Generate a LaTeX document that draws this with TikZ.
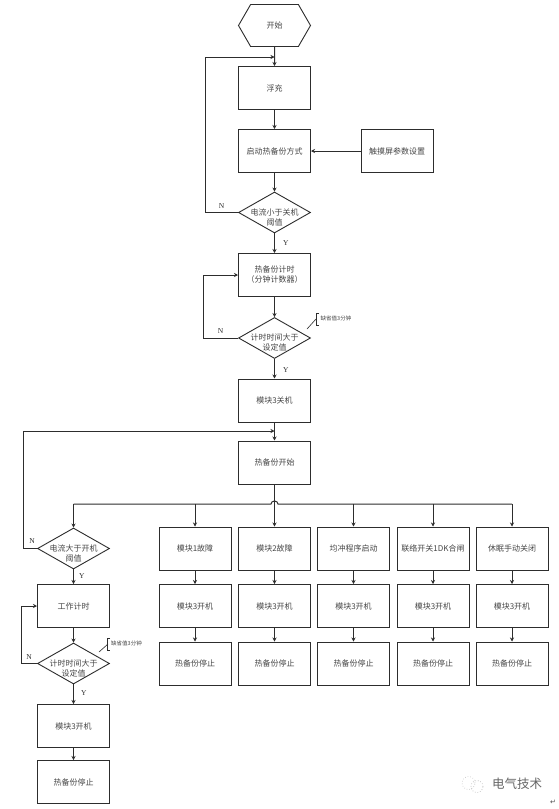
\documentclass[tikz,border=0pt]{standalone}
\usepackage{fontspec}
\usepackage{tikz}
\usetikzlibrary{arrows.meta,calc,shapes.geometric,shapes.symbols,positioning}
\setmainfont{Liberation Serif}
\newfontfamily\cjk{Noto Sans CJK SC}
\newfontfamily\symb{DejaVu Sans}
\definecolor{flowline}{RGB}{45,45,45}
\definecolor{flowtext}{RGB}{70,70,70}
\tikzset{flow/.style={-{Stealth[length=4pt,width=4pt]},flowline,line width=1pt},
 procbox/.style={draw=flowline,line width=1pt,minimum width=72pt,minimum height=43pt,
  inner sep=0pt,align=center,text=flowtext,font=\cjk\fontsize{8}{10}\selectfont},
 decide/.style={diamond,aspect=1.72,draw=flowline,line width=.9pt,minimum width=72pt,minimum height=41pt,
  inner sep=0pt},
 decidetext/.style={inner sep=0pt,align=center,text=flowtext,yshift=-4.5pt,
  font=\cjk\fontsize{8}{10}\selectfont},
 startbox/.style={signal,signal to=east and west,signal pointer angle=120,
  draw=flowline,line width=.9pt,minimum width=72pt,minimum height=42pt,inner sep=0pt,
  text=flowtext,font=\cjk\fontsize{8}{10}\selectfont},
 yn/.style={text=flowline,font=\fontsize{7.5}{8}\selectfont,inner sep=0pt},
 memo/.style={text=flowtext,font=\cjk\fontsize{5.5}{6}\selectfont,inner sep=0pt,anchor=west}}
\begin{document}
\begin{tikzpicture}[x=1pt,y=-1pt]
\useasboundingbox (0,0) rectangle (559,809);
\fill[white] (0,0) rectangle (559,809);
% main column
\node[startbox] (start) at (274.5,25.5) {开始};
\node[procbox] (float) at (274.5,88) {浮充};
\node[procbox] (mode) at (274.5,151) {启动热备份方式};
\node[procbox] (touch) at (397,151) {触摸屏参数设置};
\node[decide,label={[decidetext]center:{电流小于关机\\阈值}}] (offcheck) at (274.5,212.5) {};
\node[procbox] (timer) at (274.5,275) {热备份计时\\（分钟计数器）};
\node[decide,label={[decidetext]center:{计时时间大于\\设定值}}] (timecheck) at (274.5,338) {};
\node[procbox] (off3) at (274.5,400.5) {模块3关机};
\node[procbox] (hot) at (274.5,462.5) {热备份开始};
% left column
\node[decide,label={[decidetext]center:{电流大于开机\\阈值}}] (oncheck) at (73.5,548.5) {};
\node[procbox] (work) at (73.5,606) {工作计时};
\node[decide,label={[decidetext]center:{计时时间大于\\设定值}}] (worktime) at (73.5,663.5) {};
\node[procbox] (on0) at (73.5,726) {模块3开机};
\node[procbox] (stop0) at (73.5,782) {热备份停止};
% fault columns
\foreach \name/\xx/\txt in {a/195/模块1故障,b/274.5/模块2故障,c/353.5/均冲程序启动,
  d/433/联络开关1DK合闸,e/512/休眠手动关闭}{
 \node[procbox] (cause\name) at (\xx,548.5) {\txt};
 \node[procbox] (on\name) at (\xx,606) {模块3开机};
 \node[procbox] (stop\name) at (\xx,663.5) {热备份停止};
 \draw[flow] (cause\name) -- (on\name);
 \draw[flow] (on\name) -- (stop\name);
}
% main flow
\coordinate (backa) at (274.5,57);
\coordinate (backb) at (274.5,431);
\coordinate (busl) at (73.5,504);
\coordinate (busr) at (512,504);
\draw[flow] (start) -- (float);
\draw[flow] (float) -- (mode);
\draw[flow] (touch) -- (mode);
\draw[flow] (mode) -- (offcheck);
\draw[flow] (offcheck) -- node[yn,right=8pt,pos=.5] {Y} (timer);
\draw[flow] (timer) -- (timecheck);
\draw[flow] (timecheck) -- node[yn,right=8pt,pos=.55] {Y} (off3);
\draw[flow] (off3) -- (hot);
\draw[flow] (hot) -- (causeb);
\draw[flow] (oncheck) -- node[yn,right=5pt,pos=.45] {Y} (work);
\draw[flow] (work) -- (worktime);
\draw[flow] (worktime) -- node[yn,right=7pt,pos=.45] {Y} (on0);
\draw[flow] (on0) -- (stop0);
% feedback
\draw[flow] (offcheck.west) -- (205,212.5) node[yn,pos=.5,above=4pt] {N} |- (backa);
\draw[flow] (timecheck.west) -- (203,338) node[yn,pos=.5,above=4pt] {N} |- (timer.west);
\draw[flow] (oncheck.west) -- (23,548.5) node[yn,pos=.35,above=5pt] {N} |- (backb);
\draw[flow] (worktime.west) -- (21,663.5) node[yn,pos=.5,above=4pt] {N} |- (work.west);
% bus with hop
\draw[flowline,line width=1pt] (busl) -- (271,504) arc (180:0:3.5pt and 3pt) -- (busr);
\draw[flow] (busl) -- (oncheck);
\draw[flow] (195,504) -- (causea);
\draw[flow] (353.5,504) -- (causec);
\draw[flow] (433,504) -- (caused);
\draw[flow] (busr) -- (causee);
% notes
\node[memo] (memoa) at (320.5,318.5) {缺省值3分钟};
\node[memo] (memob) at (111,643.5) {缺省值3分钟};
\draw[flowline,line width=.6pt] (307,329) -- (316,319);
\draw[flowline,line width=.8pt] (319,313.5) -- (316.5,313.5) -- (316.5,325.5) -- (319,325.5);
\draw[flowline,line width=.6pt] (99,652) -- (108,644);
\draw[flowline,line width=.8pt] (110,638.5) -- (107.5,638.5) -- (107.5,650.5) -- (110,650.5);
% mark
\node[text=black!60,font=\cjk\fontsize{12.5}{14}\selectfont,inner sep=0pt] (brand) at (517,784) {电气技术};
\draw[black!25,line width=.6pt,dotted] (468.5,783) circle (6.5pt);
\draw[black!35,line width=.6pt,dotted] (477,786.5) circle (6pt);
\node[text=black!70,font=\symb\fontsize{7}{8}\selectfont,inner sep=0pt] (ret) at (553,802) {↵};
\end{tikzpicture}
\end{document}
